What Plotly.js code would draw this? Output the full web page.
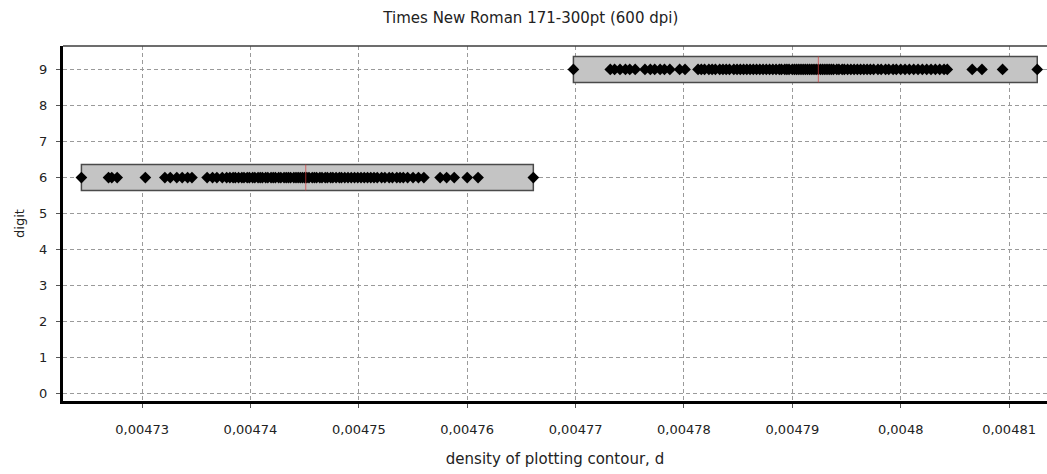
<!DOCTYPE html>
<html>
<head>
<meta charset="utf-8">
<script src="https://cdn.plot.ly/plotly-3.0.1.min.js"></script>
<style>
  html, body { margin: 0; padding: 0; background: #ffffff; }
  #chart { width: 1047px; height: 474px; }
</style>
</head>
<body>
<div id="chart"></div>
<script>
// Digit classes shown on the vertical axis
const digits = [6, 9];

// Measured contour densities for digit 6
const density6 = [
  0.0047244, 0.0047269, 0.0047272, 0.0047277, 0.0047303, 0.0047321, 0.0047326,
  0.0047332, 0.0047337, 0.0047342, 0.0047346, 0.0047360, 0.0047365, 0.0047369,
  0.0047374, 0.0047378, 0.0047381, 0.0047384, 0.0047386, 0.0047389, 0.0047392,
  0.0047394, 0.0047397, 0.0047399, 0.0047402, 0.0047404, 0.0047407, 0.0047409,
  0.0047411, 0.0047414, 0.0047416, 0.0047419, 0.0047421, 0.0047423, 0.0047426,
  0.0047428, 0.0047431, 0.0047433, 0.0047435, 0.0047437, 0.0047440, 0.0047442,
  0.0047444, 0.0047446, 0.0047448, 0.0047450, 0.0047452, 0.0047454, 0.0047457,
  0.0047459, 0.0047461, 0.0047464, 0.0047466, 0.0047469, 0.0047471, 0.0047474,
  0.0047476, 0.0047479, 0.0047482, 0.0047484, 0.0047487, 0.0047490, 0.0047493,
  0.0047496, 0.0047499, 0.0047502, 0.0047505, 0.0047508, 0.0047511, 0.0047514,
  0.0047517, 0.0047521, 0.0047524, 0.0047528, 0.0047531, 0.0047535, 0.0047538,
  0.0047541, 0.0047545, 0.0047550, 0.0047555, 0.0047560, 0.0047575, 0.0047581,
  0.0047588, 0.0047600, 0.0047610, 0.0047661
];

// Measured contour densities for digit 9
const density9 = [
  0.0047698, 0.0047732, 0.0047736, 0.0047741, 0.0047746, 0.0047750, 0.0047755,
  0.0047764, 0.0047769, 0.0047773, 0.0047778, 0.0047782, 0.0047787, 0.0047796,
  0.0047801, 0.0047813, 0.0047816, 0.0047819, 0.0047823, 0.0047826, 0.0047829,
  0.0047833, 0.0047836, 0.0047839, 0.0047842, 0.0047846, 0.0047849, 0.0047852,
  0.0047855, 0.0047858, 0.0047861, 0.0047864, 0.0047867, 0.0047870, 0.0047873,
  0.0047876, 0.0047879, 0.0047882, 0.0047885, 0.0047888, 0.0047890, 0.0047893,
  0.0047895, 0.0047897, 0.0047900, 0.0047902, 0.0047904, 0.0047906, 0.0047908,
  0.0047910, 0.0047912, 0.0047914, 0.0047916, 0.0047918, 0.0047920, 0.0047922,
  0.0047924, 0.0047926, 0.0047928, 0.0047930, 0.0047932, 0.0047934, 0.0047936,
  0.0047938, 0.0047941, 0.0047943, 0.0047946, 0.0047948, 0.0047951, 0.0047954,
  0.0047957, 0.0047960, 0.0047963, 0.0047966, 0.0047969, 0.0047972, 0.0047975,
  0.0047979, 0.0047982, 0.0047986, 0.0047989, 0.0047993, 0.0047996, 0.0048000,
  0.0048004, 0.0048008, 0.0048012, 0.0048016, 0.0048020, 0.0048024, 0.0048028,
  0.0048032, 0.0048036, 0.0048040, 0.0048043, 0.0048066, 0.0048075, 0.0048094,
  0.0048126
];

// Centre value marked inside each range bar
const centres = [0.0047451, 0.0047924];

const rows = [density6, density9];

const fontFamily = '"DejaVu Sans", "Liberation Sans", sans-serif';
const barHalf = 0.36;

const traces = rows.map((vals, i) => ({
  type: 'scatter',
  mode: 'markers',
  x: vals,
  y: vals.map(() => digits[i]),
  marker: { symbol: 'diamond', size: 9, color: '#000000', line: { width: 0 } },
  hoverinfo: 'x+y',
  showlegend: false
}));

const shapes = [];
rows.forEach((vals, i) => {
  const d = digits[i];
  // range bar spanning the observed minimum to maximum
  shapes.push({
    type: 'rect', xref: 'x', yref: 'y', layer: 'between',
    x0: Math.min(...vals), x1: Math.max(...vals),
    y0: d - barHalf, y1: d + barHalf,
    fillcolor: '#c4c4c4',
    line: { color: '#4a4a4a', width: 1.5 }
  });
  // centre marker
  shapes.push({
    type: 'line', xref: 'x', yref: 'y', layer: 'above',
    x0: centres[i], x1: centres[i],
    y0: d - barHalf, y1: d + barHalf,
    line: { color: 'rgba(215,60,60,0.7)', width: 1 }
  });
});
// thin upper frame edge
shapes.push({
  type: 'line', xref: 'paper', yref: 'paper', layer: 'above',
  x0: 0, x1: 1, y0: 1, y1: 1,
  line: { color: '#3c3c3c', width: 1.5 }
});

const layout = {
  width: 1047,
  height: 474,
  margin: { l: 63, r: 0, t: 46, b: 73 },
  paper_bgcolor: '#ffffff',
  plot_bgcolor: '#ffffff',
  separators: ', ',
  font: { family: fontFamily, size: 13, color: '#222222' },
  title: {
    text: 'Times New Roman 171-300pt (600 dpi)',
    font: { family: fontFamily, size: 15, color: '#222222' },
    xref: 'container', x: 0.507, xanchor: 'center',
    yref: 'container', y: 0.962, yanchor: 'middle'
  },
  xaxis: {
    title: { text: 'density of plotting contour, d', font: { size: 15 }, standoff: 18 },
    range: [0.0047227, 0.0048135],
    tick0: 0.00473,
    dtick: 0.00001,
    tickformat: '~g',
    showgrid: true,
    gridcolor: '#9a9a9a',
    griddash: '4px,3px',
    gridwidth: 1,
    zeroline: false,
    showline: true,
    linecolor: '#000000',
    linewidth: 3,
    ticks: 'outside',
    ticklen: 4,
    tickcolor: '#555555',
    ticklabelstandoff: 10,
    tickfont: { size: 13, color: '#222222' }
  },
  yaxis: {
    title: { text: 'digit', font: { size: 13 }, standoff: 12 },
    range: [-0.2, 9.65],
    tick0: 0,
    dtick: 1,
    showgrid: true,
    gridcolor: '#9a9a9a',
    griddash: '4px,3px',
    gridwidth: 1,
    zeroline: false,
    showline: true,
    linecolor: '#000000',
    linewidth: 3,
    ticks: 'outside',
    ticklen: 4,
    tickcolor: '#555555',
    ticklabelstandoff: 6,
    tickfont: { size: 13, color: '#222222' }
  },
  shapes: shapes,
  showlegend: false
};

Plotly.newPlot('chart', traces, layout, { displayModeBar: false, staticPlot: true });
</script>
</body>
</html>
